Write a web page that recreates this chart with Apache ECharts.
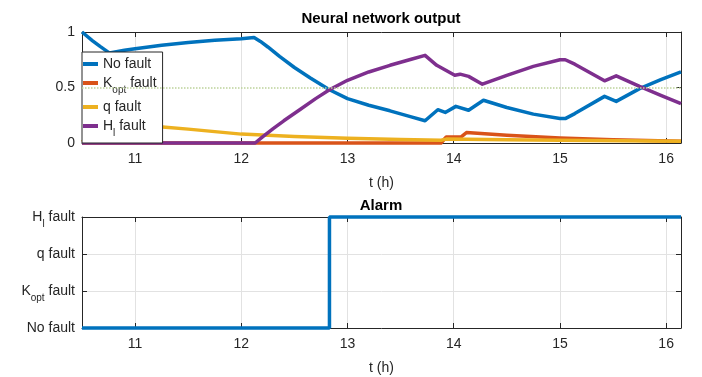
<!DOCTYPE html>
<html>
<head>
<meta charset="utf-8">
<script src="https://cdn.jsdelivr.net/npm/echarts@6/dist/echarts.min.js"></script>
<style>
  html, body { margin: 0; padding: 0; background: #ffffff; }
  #chart { width: 702px; height: 377px; }
</style>
</head>
<body>
<div id="chart"></div>
<script>
// Time axis (hours)
const timeMin = 10.5;
const timeMax = 16.14;
const timeTicks = [11, 12, 13, 14, 15, 16];

// Output ticks of the classifier
const outputTicks = [0, 0.5, 1];
const threshold = 0.5;

// Class names; "_" marks a subscript
const classNames = ['No fault', 'K_opt fault', 'q fault', 'H_l fault'];

// Neural network output per class
const noFaultT = [10.5, 10.6, 10.67, 10.76, 10.9, 11.0, 11.25, 11.5, 11.75, 12.0, 12.12, 12.18, 12.25, 12.36, 12.5, 12.65, 12.83, 13.0, 13.2, 13.4, 13.6, 13.73, 13.85, 13.92, 14.02, 14.14, 14.28, 14.5, 14.75, 15.0, 15.05, 15.14, 15.42, 15.53, 15.75, 15.95, 16.14];
const noFaultV = [1.0, 0.92, 0.87, 0.81, 0.835, 0.85, 0.88, 0.905, 0.925, 0.94, 0.95, 0.915, 0.865, 0.78, 0.68, 0.585, 0.48, 0.40, 0.34, 0.29, 0.235, 0.20, 0.30, 0.275, 0.33, 0.295, 0.385, 0.32, 0.26, 0.22, 0.22, 0.265, 0.42, 0.375, 0.49, 0.57, 0.64];

const koptT = [10.5, 13.88, 13.93, 14.07, 14.12, 14.5, 15.0, 15.5, 16.14];
const koptV = [0.0, 0.0, 0.054, 0.056, 0.094, 0.07, 0.045, 0.03, 0.016];

const qFaultT = [10.5, 10.6, 10.76, 11.0, 11.26, 11.5, 12.0, 12.5, 13.0, 13.5, 13.88, 13.93, 14.5, 15.0, 16.14];
const qFaultV = [0.01, 0.07, 0.18, 0.165, 0.145, 0.125, 0.08, 0.058, 0.042, 0.032, 0.025, 0.035, 0.03, 0.024, 0.015];

const hlFaultT = [10.5, 12.13, 12.2, 12.3, 12.4, 12.55, 12.7, 12.83, 13.0, 13.2, 13.4, 13.6, 13.73, 13.84, 14.01, 14.06, 14.14, 14.27, 14.5, 14.75, 15.0, 15.05, 15.14, 15.42, 15.53, 15.75, 15.95, 16.14];
const hlFaultV = [0.0, 0.0, 0.055, 0.13, 0.20, 0.30, 0.40, 0.48, 0.565, 0.64, 0.70, 0.755, 0.79, 0.70, 0.61, 0.62, 0.60, 0.53, 0.61, 0.69, 0.75, 0.75, 0.71, 0.56, 0.605, 0.51, 0.43, 0.355];

// Alarm state (index into classNames)
const alarmT = [10.5, 12.83, 16.14];
const alarmV = [0, 3, 3];
const alarmTicks = [0, 1, 2, 3];

const colors = ['#0072BD', '#D95319', '#EDB120', '#7E2F8E'];
const FONT = '"Liberation Sans", Arial, Helvetica, sans-serif';
const INK = '#262626';

function pairs(ts, vs) { return ts.map((t, i) => [t, vs[i]]); }

// "K_opt fault" -> rich text with a subscript
function richName(name) {
  const m = name.match(/^(\S)_(\S+)(.*)$/);
  if (!m) return '{n|' + name + '}';
  return '{n|' + m[1] + '}{s|' + m[2] + '}{n|' + m[3] + '}';
}
const rich = {
  n: { fontSize: 14, color: INK, fontFamily: FONT, lineHeight: 16 },
  s: { fontSize: 10, color: INK, fontFamily: FONT, padding: [14, 0, 0, 0] }
};

const grids = [
  { left: 82, right: 21, top: 32, height: 111 },
  { left: 82, right: 21, top: 217, height: 111 }
];

function xAxes(gi) {
  const common = {
    type: 'value', gridIndex: gi, min: timeMin, max: timeMax,
    axisLine: { show: true, onZero: false, lineStyle: { color: INK, width: 1 } },
    axisTick: { show: true, inside: true, length: 5, customValues: timeTicks, lineStyle: { color: INK } }
  };
  return [
    Object.assign({}, common, {
      position: 'bottom',
      axisLabel: { show: true, customValues: timeTicks, margin: 9, color: INK, fontSize: 14, fontFamily: FONT },
      splitLine: { show: true, lineStyle: { color: '#e2e2e2', width: 1 } },
      name: 't (h)', nameLocation: 'middle', nameGap: 33,
      nameTextStyle: { color: INK, fontSize: 14, fontFamily: FONT }
    }),
    Object.assign({}, common, {
      position: 'top',
      axisLabel: { show: false },
      splitLine: { show: false }
    })
  ];
}

function yAxes(gi, min, max, interval, labelFmt, grid) {
  const common = {
    type: 'value', gridIndex: gi, min: min, max: max, interval: interval,
    axisLine: { show: true, onZero: false, lineStyle: { color: INK, width: 1 } },
    axisTick: { show: true, inside: true, length: 5, lineStyle: { color: INK } }
  };
  return [
    Object.assign({}, common, {
      position: 'left',
      axisLabel: { show: true, margin: 7, color: INK, fontSize: 14, fontFamily: FONT, formatter: labelFmt, rich: rich },
      splitLine: { show: grid, lineStyle: { color: '#e2e2e2', width: 1 } }
    }),
    Object.assign({}, common, {
      position: 'right',
      axisLabel: { show: false },
      splitLine: { show: false }
    })
  ];
}

const lineBase = {
  type: 'line', showSymbol: false, symbol: 'none', clip: false, animation: false,
  xAxisIndex: 0, yAxisIndex: 0
};

const outputs = [
  [noFaultT, noFaultV], [koptT, koptV], [qFaultT, qFaultV], [hlFaultT, hlFaultV]
];

const series = outputs.map((o, i) => Object.assign({}, lineBase, {
  name: classNames[i],
  data: pairs(o[0], o[1]),
  lineStyle: { color: colors[i], width: 3.5, join: 'round' },
  itemStyle: { color: colors[i] }
}));

// decision threshold
series[0].markLine = {
  silent: true, symbol: ['none', 'none'], label: { show: false },
  lineStyle: { type: 'dotted', color: '#bcd29a', width: 1.5 },
  data: [{ yAxis: threshold }]
};

series.push(Object.assign({}, lineBase, {
  name: 'Alarm', xAxisIndex: 2, yAxisIndex: 2,
  data: pairs(alarmT, alarmV), step: 'end',
  lineStyle: { color: colors[0], width: 3.5 },
  itemStyle: { color: colors[0] }
}));

const option = {
  backgroundColor: '#ffffff',
  animation: false,
  textStyle: { fontFamily: FONT },
  title: [
    { text: 'Neural network output', left: 381, top: 11, textAlign: 'center', padding: 0,
      textStyle: { fontSize: 15, fontWeight: 'bold', color: '#000', fontFamily: FONT } },
    { text: 'Alarm', left: 381, top: 198, textAlign: 'center', padding: 0,
      textStyle: { fontSize: 15, fontWeight: 'bold', color: '#000', fontFamily: FONT } }
  ],
  legend: {
    data: classNames,
    orient: 'vertical', left: 82, top: 52,
    padding: [5, 6, 5, 1], itemGap: 5,
    itemWidth: 15, itemHeight: 4, icon: 'rect',
    backgroundColor: '#ffffff', borderColor: INK, borderWidth: 1, borderRadius: 0,
    formatter: richName,
    textStyle: { rich: rich, color: INK, fontSize: 14, fontFamily: FONT },
    selectedMode: false
  },
  grid: grids,
  xAxis: [...xAxes(0), ...xAxes(1)],
  yAxis: [
    ...yAxes(0, 0, 1, 0.5, v => '{n|' + v + '}', false),
    ...yAxes(1, 0, 3, 1, v => richName(classNames[v]), true)
  ],
  series: series
};

const chart = echarts.init(document.getElementById('chart'), null, { renderer: 'canvas' });
chart.setOption(option);
</script>
</body>
</html>
